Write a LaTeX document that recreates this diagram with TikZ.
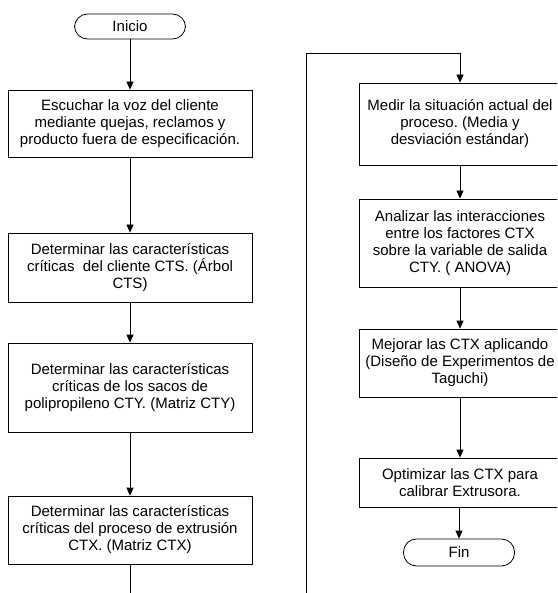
\documentclass[tikz,border=0pt]{standalone}
\usepackage{fontspec}
\setmainfont{Liberation Sans}
\usetikzlibrary{arrows.meta}
\frenchspacing
\begin{document}
\begin{tikzpicture}[x=1pt,y=-1pt,
  txt/.style={font=\fontsize{15}{17}\selectfont\frenchspacing},
  box/.style={txt, draw, line width=0.8pt, align=center, inner sep=0pt},
  lbox/.style={box, minimum width=244pt},
  rbox/.style={box, minimum width=202pt},
  term/.style={txt, draw, line width=0.8pt, rounded corners=13pt, inner sep=0pt, minimum width=111pt},
  arr/.style={line width=0.8pt, -{Triangle[length=8pt,width=7pt]}},
  ln/.style={line width=0.8pt}]
\useasboundingbox (0,0) rectangle (557,593);
\clip (0,0) rectangle (557,593);
% left column
\node[term, minimum height=25pt] (ini) at (130,26.5) {Inicio};
\node[lbox, minimum height=67pt] (b1) at (130,123.5) {Escuchar la voz del cliente\\mediante quejas, reclamos y\\producto fuera de especificación.};
\node[lbox, minimum height=69pt] (b2) at (130,267.5) {Determinar las características\\críticas\ \ del cliente CTS. (Árbol\\CTS)};
\node[lbox, minimum height=89pt] (b3) at (130,387.5) {Determinar las características\\críticas de los sacos de\\polipropileno CTY. (Matriz CTY)};
\node[lbox, minimum height=68pt] (b4) at (130,530) {Determinar las características\\críticas del proceso de extrusión\\CTX. (Matriz CTX)};
% right column
\node[rbox, minimum height=82pt] (b5) at (460,124) {Medir la situación actual del\\proceso. (Media y\\desviación estándar)};
\node[rbox, minimum height=88pt] (b6) at (460,243) {Analizar las interacciones\\entre los factores CTX\\sobre la variable de salida\\CTY. ( ANOVA)};
\node[rbox, minimum height=68pt] (b7) at (460,363) {Mejorar las CTX aplicando\\(Diseño de Experimentos de\\Taguchi)};
\node[rbox, minimum height=49pt] (b8) at (460,482.5) {Optimizar las CTX para\\calibrar Extrusora.};
\node[term, minimum height=27pt] (fin) at (459,552.5) {Fin};
% connectors
\coordinate (e1) at (130,593);
\coordinate (e2) at (306,593);
\coordinate (k1) at (306,53);
\draw[arr] (ini) -- (b1);
\draw[arr] (b1) -- (b2);
\draw[arr] (b2) -- (b3);
\draw[arr] (b3) -- (b4);
\draw[ln] (b4.south) -- (e1);
\draw[arr] (e2) -- (k1) -| (b5.north);
\draw[arr] (b5) -- (b6);
\draw[arr] (b6) -- (b7);
\draw[arr] (b7) -- (b8);
\draw[arr] (b8.south -| fin.north) -- (fin.north);
\end{tikzpicture}
\end{document}
